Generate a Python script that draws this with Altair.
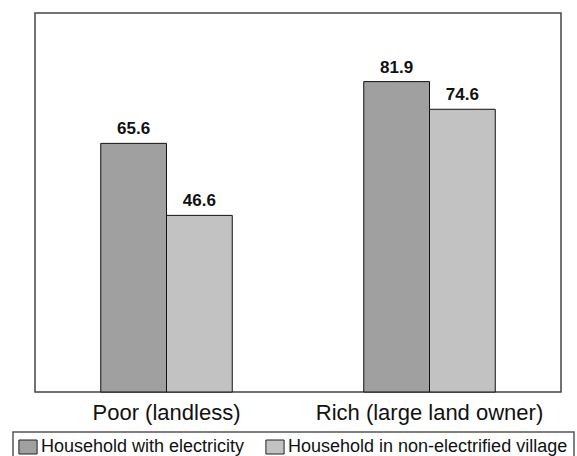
import altair as alt
import pandas as pd

categories = ["Poor (landless)", "Rich (large land owner)"]
series = ["Household with electricity", "Household in non-electrified village"]
values_electricity = [65.6, 81.9]
values_nonelectrified = [46.6, 74.6]

rows = []
for i, c in enumerate(categories):
    rows.append({"group": c, "series": series[0], "value": values_electricity[i]})
    rows.append({"group": c, "series": series[1], "value": values_nonelectrified[i]})
df = pd.DataFrame(rows)

FONT = "Liberation Sans"

x_enc = alt.X("group:N", sort=categories,
              scale=alt.Scale(paddingInner=0.5, paddingOuter=0.25),
              axis=alt.Axis(title=None, domain=False, ticks=False, labelAngle=0,
                            labelFontSize=22, labelFont=FONT, labelColor="#111",
                            labelPadding=10, labelLimit=0))
xoff = alt.XOffset("series:N", sort=series, scale=alt.Scale(paddingInner=0, paddingOuter=0))
y_enc = alt.Y("value:Q", scale=alt.Scale(domain=[0, 100], nice=False), axis=None)

bars = alt.Chart(df).mark_bar(stroke="#111", strokeWidth=1).encode(
    x=x_enc, xOffset=xoff, y=y_enc,
    color=alt.Color("series:N", sort=series,
                    scale=alt.Scale(domain=series, range=["#a0a0a0", "#c2c2c2"]),
                    legend=alt.Legend(
                        title=None, orient="none", direction="horizontal",
                        legendX=-22, legendY=419,
                        symbolType="M-1.3,-1L1.3,-1L1.3,1L-1.3,1Z",
                        symbolSize=196, symbolStrokeColor="#222", symbolStrokeWidth=1,
                        symbolOpacity=1,
                        labelFont=FONT, labelFontSize=18, labelColor="#111",
                        labelOffset=4, columnPadding=18, padding=6, labelLimit=0,
                        strokeColor="#555",
                    )),
)

labels = alt.Chart(df).mark_text(font=FONT, fontSize=17, fontWeight="bold",
                                 baseline="alphabetic", dy=-9, color="#111").encode(
    x=x_enc, xOffset=xoff, y=y_enc, text=alt.Text("value:Q", format=".1f"),
)

chart = (bars + labels).properties(
    width=526, height=379,
    padding={"left": 12, "top": 13, "right": 0, "bottom": 0},
    background="white",
).configure_view(stroke="#444", strokeWidth=1.5).configure_legend(
    strokeWidth=1.5
)

chart.save("out.html", embed_options={"renderer": "svg", "actions": False})
